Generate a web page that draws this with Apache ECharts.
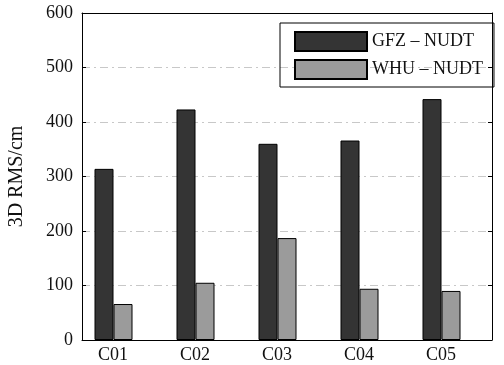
<!DOCTYPE html>
<html>
<head>
    <meta charset="UTF-8">
    <title>3D RMS</title>
    <script src="https://cdn.jsdelivr.net/npm/echarts@6/dist/echarts.min.js"></script>
    <style>
        html, body { margin: 0; padding: 0; background: #fff; }
        #main { width: 504px; height: 365px; }
    </style>
</head>
<body>
    <div id="main"></div>
    <script>
        var categories = ['C01', 'C02', 'C03', 'C04', 'C05'];
        var gfzValues = [314, 423, 360, 366, 442];
        var whuValues = [66, 105, 187, 94, 90];
        var yTicks = { min: 0, max: 600, step: 100 };

        var font = 'Liberation Serif';
        var gridLine = { color: '#c8c8c8', width: 1, type: [8, 4, 2, 4] };
        var frame = { onZero: false, lineStyle: { color: '#000', width: 1 } };

        var chart = echarts.init(document.getElementById('main'));
        chart.setOption({
            backgroundColor: '#fff',
            animation: false,
            textStyle: { fontFamily: font },
            // plot width 410 -> whole-pixel band centres, crisp bar edges
            grid: { left: 82, right: 12, top: 13, bottom: 25, outerBoundsMode: 'none' },
            legend: {
                data: ['GFZ – NUDT', 'WHU – NUDT'],
                orient: 'vertical',
                left: 280,
                top: 23,
                padding: [8, 11, 7, 14],
                itemWidth: 72,
                itemHeight: 19,
                itemGap: 7,
                icon: 'rect',
                borderColor: '#000',
                borderWidth: 1,
                textStyle: { fontFamily: font, fontSize: 18, color: '#111' }
            },
            xAxis: [{
                type: 'category',
                data: categories,
                position: 'bottom',
                axisLine: frame,
                axisTick: { show: false },
                axisLabel: {
                    fontFamily: font, fontSize: 18, color: '#111',
                    margin: 6,
                    padding: [0, 20, 0, 0]   // labels sit under the dark/light boundary
                }
            }, {
                type: 'category',
                data: categories,
                position: 'top',
                axisLine: frame,
                axisTick: { inside: true, alignWithLabel: true, length: 4, lineStyle: { color: '#000' } },
                axisLabel: { show: false }
            }],
            yAxis: [{
                type: 'value',
                min: yTicks.min,
                max: yTicks.max,
                interval: yTicks.step,
                name: '3D RMS/cm',
                nameLocation: 'middle',
                nameRotate: 90,
                nameGap: 55,
                nameTextStyle: { fontFamily: font, fontSize: 20, color: '#111' },
                axisLine: { show: true, onZero: false, lineStyle: { color: '#000', width: 1 } },
                axisTick: { show: true, inside: true, length: 4, lineStyle: { color: '#000' } },
                axisLabel: { fontFamily: font, fontSize: 18, color: '#111', margin: 9 },
                splitLine: { show: true, lineStyle: gridLine }
            }, {
                type: 'value',
                position: 'right',
                min: yTicks.min,
                max: yTicks.max,
                interval: yTicks.step,
                axisLine: { show: true, onZero: false, lineStyle: { color: '#000', width: 1 } },
                axisTick: { show: true, inside: true, length: 4, lineStyle: { color: '#000' } },
                axisLabel: { show: false },
                splitLine: { show: false }
            }],
            series: [{
                name: 'GFZ – NUDT',
                type: 'bar',
                data: gfzValues,
                barWidth: 19,
                barGap: '0%',
                itemStyle: { color: '#343434', borderColor: '#000', borderWidth: 1 }
            }, {
                name: 'WHU – NUDT',
                type: 'bar',
                data: whuValues,
                barWidth: 19,
                barGap: '0%',
                itemStyle: { color: '#9b9b9b', borderColor: '#000', borderWidth: 1 }
            }, {
                // empty third slot keeps the pair left of the tick like the original
                name: 'spacer',
                type: 'bar',
                data: [null, null, null, null, null],
                barWidth: 19,
                barGap: '0%',
                silent: true
            }]
        });
    </script>
</body>
</html>
